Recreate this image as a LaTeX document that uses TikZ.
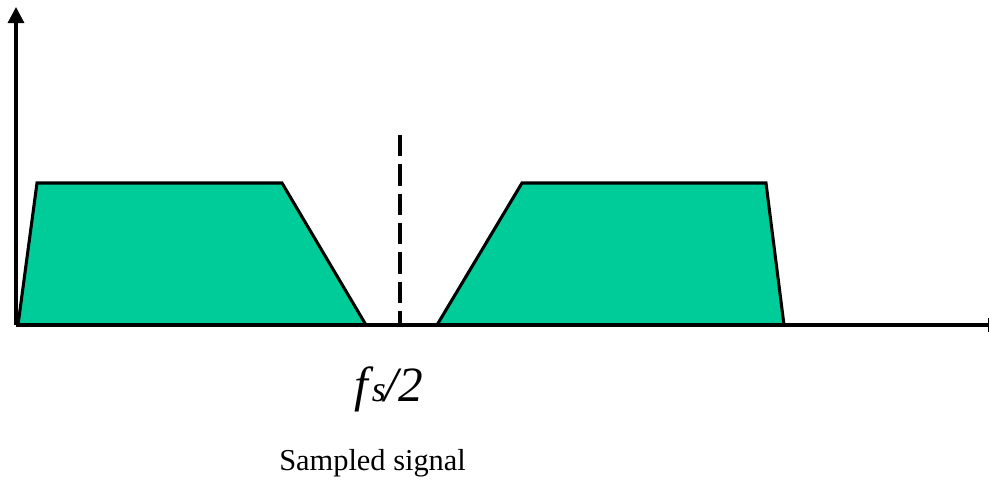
\documentclass[tikz,border=0pt]{standalone}
\usepackage{fontspec}
\setmainfont{Liberation Serif}
\usetikzlibrary{arrows.meta}
\definecolor{bandgreen}{RGB}{0,204,153}
\tikzset{
  axisline/.style={line width=2.3pt},
  band/.style={fill=bandgreen, draw=black, line width=2.3pt, line join=miter},
  halfline/.style={line width=2.3pt, dash pattern=on 16pt off 6pt},
}
\begin{document}
\begin{tikzpicture}[x=0.75pt,y=-0.75pt]
\useasboundingbox (0,0) rectangle (990,489);
% band shapes
\draw[band] (18,325) -- (37,183) -- (282,183) -- (366,325) -- cycle;
\draw[band] (437,325) -- (522,183) -- (766,183) -- (784,325) -- cycle;
% axes
\coordinate (o) at (16,325);
\coordinate (ytop) at (16,7);
\coordinate (xend) at (989,325);
\draw[axisline, -{Triangle[width=12pt,length=12pt]}] (o) -- (ytop);
\draw[axisline, -{Bar[width=11pt,line width=1pt]}] (o) -- (xend);
% half sampling frequency marker
\coordinate (h1) at (400,135);
\coordinate (h0) at (400,325);
\draw[halfline] (h1) -- (h0);
\node[anchor=base, inner sep=0pt, font=\fontsize{37}{42}\selectfont\itshape] (fs) at (389,401) {f\kern2.5pt{\fontsize{27}{30}\selectfont s}\kern-1pt/2};
\node[anchor=base west, inner sep=0pt, font=\fontsize{22.8}{26}\selectfont] (cap) at (279,470) {Sampled signal};
\end{tikzpicture}
\end{document}
